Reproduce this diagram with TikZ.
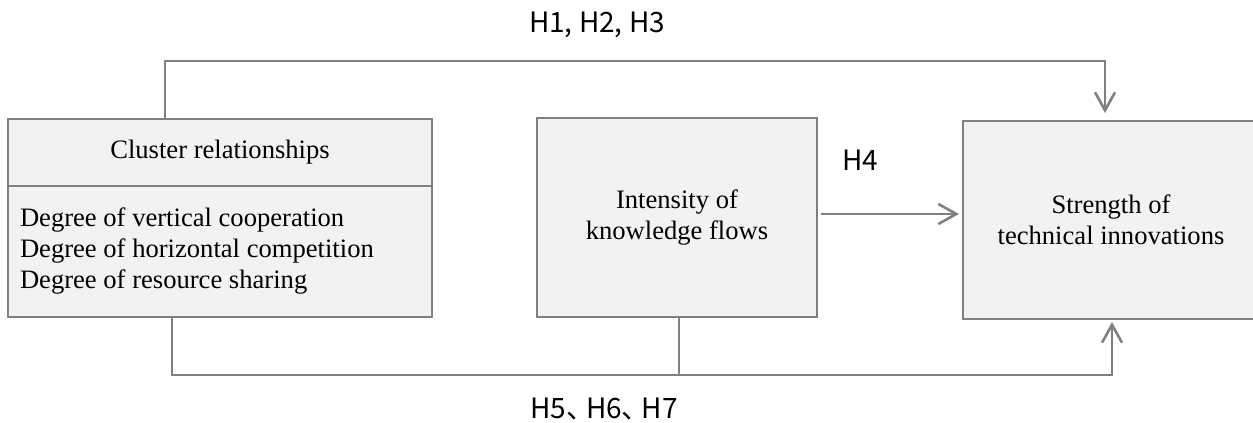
\documentclass[tikz,border=0pt]{standalone}
\usepackage{fontspec}
\setmainfont{Liberation Serif}
\newfontfamily\cjk{Noto Sans CJK SC}
\usetikzlibrary{arrows.meta,positioning}

\begin{document}
\begin{tikzpicture}[x=0.5pt,y=-0.5pt,>={Straight Barb[length=9pt,width=10pt]},
  box/.style={draw=gray,fill=gray!10,line width=1.3pt,inner sep=0pt,outer sep=0pt,align=center,
    font=\fontsize{13.3}{15.5}\selectfont},
  conn/.style={gray,line width=1.3pt},
  hlab/.style={font=\cjk\fontsize{14}{17}\selectfont,inner sep=0pt,anchor=base}]
  \useasboundingbox (0,0) rectangle (1253,423);

  % boxes
  \node[box,minimum width=212pt,minimum height=33.5pt] (clhead) at (220,152.5) {Cluster relationships};
  \node[box,minimum width=212pt,minimum height=65.5pt,below=0pt of clhead,align=flush left,text width=200pt] (clbody)
    {Degree of vertical cooperation\\Degree of horizontal competition\\Degree of resource sharing};
  \node[box,minimum width=140pt,minimum height=99.5pt] (knowflow) at (677,217.5) {Intensity of\\knowledge flows};
  \node[box,minimum width=148pt,minimum height=99pt] (strength) at (1111,220) {Strength of\\technical innovations};

  % routing points
  \coordinate (topl) at (165,61);
  \coordinate (topr) at (1105,61);
  \coordinate (botl) at (172,375);
  \coordinate (botm) at (679,375);
  \coordinate (botr) at (1112,375);
  \coordinate (hrow) at (0,214);

  \draw[conn,->,shorten >=4pt] (clhead.north -| topl) -- (topl) -- (topr) -- (strength.north -| topr);
  \draw[conn,->,shorten >=1.5pt] (clbody.south -| botl) -- (botl) -- (botr) -- (strength.south -| botr);
  \draw[conn] (knowflow.south -| botm) -- (botm);
  \draw[conn,->,shorten <=2pt,shorten >=2pt] (knowflow.east |- hrow) -- (strength.west |- hrow);

  % hypothesis labels
  \node[hlab] (htop) at (597,32.3) {H1, H2, H3};
  \node[hlab] (hfour) at (860,170) {H4};
  \node[hlab] (hbot) at (604,418) {H5、\kern-4pt H6、\kern-4pt H7};
\end{tikzpicture}
\end{document}
